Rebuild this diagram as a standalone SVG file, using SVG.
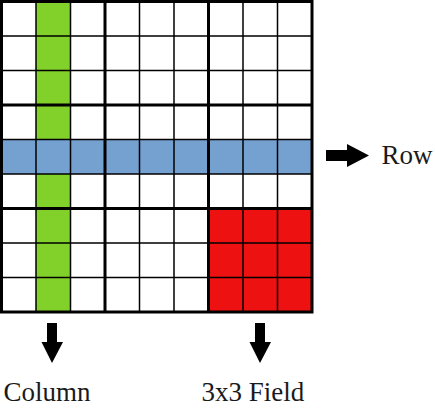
<svg xmlns="http://www.w3.org/2000/svg" width="435" height="412" viewBox="0 0 435 412">
<style>
.thin{stroke:#000;stroke-width:1.5;fill:none}
.thick{stroke:#000;stroke-width:3;fill:none}
.arr{fill:#000}
</style>
<rect width="435" height="412" fill="#fff"/>
<g id="highlights">
<rect id="column" x="36" y="1.5" width="34.5" height="310.5" fill="#82d12a"/>
<rect id="row" x="1.5" y="139.5" width="310.5" height="34.5" fill="#75a1d0"/>
<rect id="field" x="208.5" y="208.5" width="103.5" height="103.5" fill="#ee1111"/>
</g>
<g id="grid">
<path class="thin" d="M36 1.5V312M70.5 1.5V312M139.5 1.5V312M174 1.5V312M243 1.5V312M277.5 1.5V312M1.5 36H312M1.5 70.5H312M1.5 139.5H312M1.5 174H312M1.5 243H312M1.5 277.5H312"/>
<path class="thick" d="M105 1.5V312M208.5 1.5V312M1.5 105H312M1.5 208.5H312"/>
<rect class="thick" x="1.5" y="1.5" width="310.5" height="310.5"/>
</g>
<g id="connectors">
<polygon class="arr" points="326,150 347,150 347,144 369,155.5 347,167 347,161 326,161"/>
<polygon class="arr" points="47,323 57,323 57,342 63,342 52,363 41.5,342 47,342"/>
<polygon class="arr" points="255,323 265,323 265,342 271,342 260,363 249.5,342 255,342"/>
</g>
<g id="labels" font-family="'Liberation Serif', 'DejaVu Serif', serif" font-size="27" fill="#1a1a1a">
<text id="label-row" x="381.5" y="163.5">Row</text>
<text id="label-column" x="3.5" y="400.5">Column</text>
<text id="label-field" x="201.5" y="400.5">3x3 Field</text>
</g>
</svg>
